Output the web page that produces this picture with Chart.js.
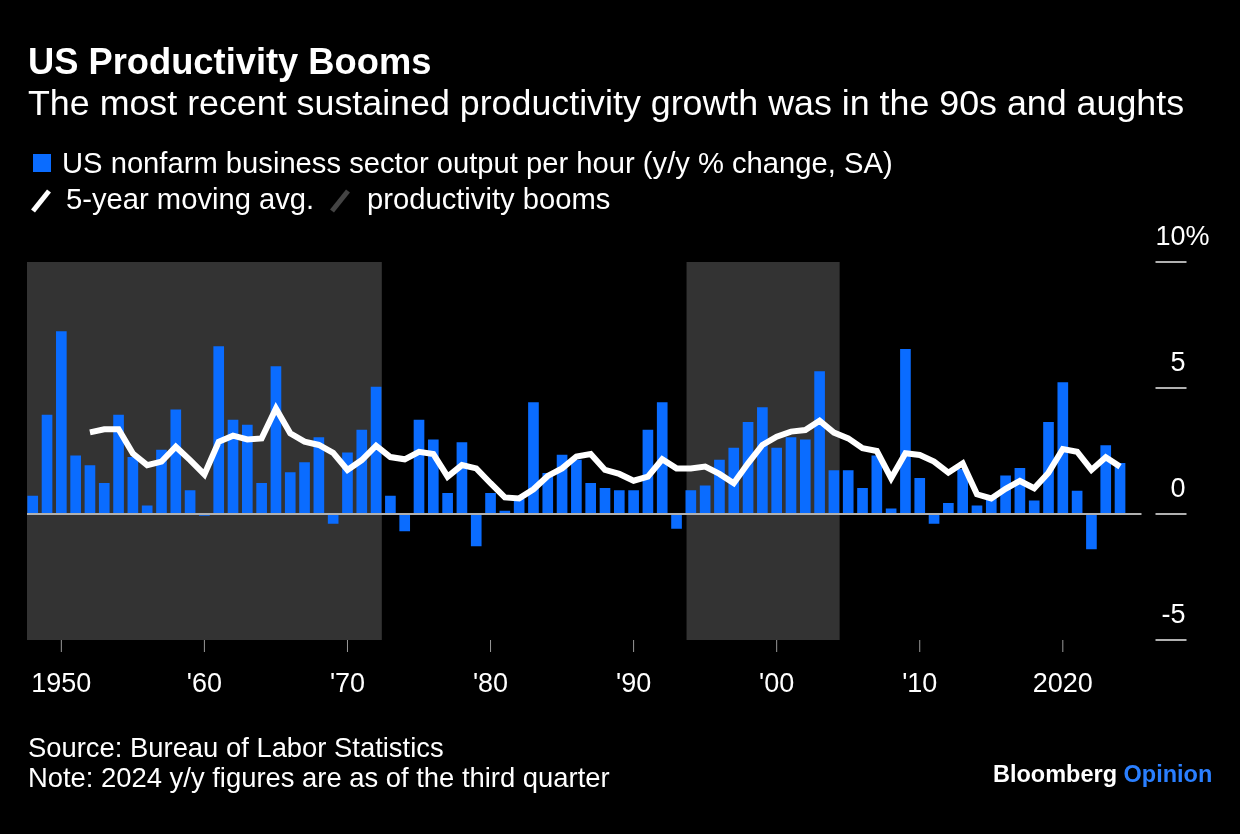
<!DOCTYPE html>
<html>
<head>
<meta charset="utf-8">
<script src="https://cdn.jsdelivr.net/npm/chart.js@4"></script>
<style>
    body {
        margin: 0;
        background: #000;
        width: 1240px;
        height: 834px;
        overflow: hidden;
        font-family: "Liberation Sans", Arial, sans-serif;
        color: #fff;
    }
    .txt {
        position: absolute;
        white-space: nowrap;
        line-height: 1;
    }
    #wrap {
        position: absolute;
        left: 0;
        top: 0;
        width: 1240px;
        height: 834px;
    }
</style>
</head>
<body>
<div id="wrap"><canvas id="chart" width="1240" height="834"></canvas></div>

<div class="txt" style="left:28px;top:44px;font-size:36.3px;font-weight:bold;">US Productivity Booms</div>
<div class="txt" style="left:28px;top:86px;font-size:35.8px;">The most recent sustained productivity growth was in the 90s and aughts</div>

<div style="position:absolute;left:33px;top:154px;width:18px;height:18px;background:#0a6cff;"></div>
<div class="txt" style="left:62px;top:149px;font-size:29.2px;">US nonfarm business sector output per hour (y/y % change, SA)</div>
<svg style="position:absolute;left:28px;top:188px;" width="26" height="26"><line x1="5" y1="23" x2="21" y2="3" stroke="#fff" stroke-width="5"/></svg>
<div class="txt" style="left:66px;top:185px;font-size:29.2px;">5-year moving avg.</div>
<svg style="position:absolute;left:327px;top:188px;" width="26" height="26"><line x1="5" y1="23" x2="21" y2="3" stroke="#444" stroke-width="5"/></svg>
<div class="txt" style="left:367px;top:185px;font-size:29.2px;">productivity booms</div>

<div class="txt" style="left:28px;top:734px;font-size:27.4px;">Source: Bureau of Labor Statistics</div>
<div class="txt" style="left:28px;top:764px;font-size:27.4px;">Note: 2024 y/y figures are as of the third quarter</div>
<div class="txt" style="left:993px;top:763px;font-size:23.5px;font-weight:bold;">Bloomberg <span style="color:#2a7fff;">Opinion</span></div>

<script>
// años 1948-2024
const years = [
    1948, 1949, 1950, 1951, 1952, 1953, 1954, 1955, 1956, 1957,
    1958, 1959, 1960, 1961, 1962, 1963, 1964, 1965, 1966, 1967,
    1968, 1969, 1970, 1971, 1972, 1973, 1974, 1975, 1976, 1977,
    1978, 1979, 1980, 1981, 1982, 1983, 1984, 1985, 1986, 1987,
    1988, 1989, 1990, 1991, 1992, 1993, 1994, 1995, 1996, 1997,
    1998, 1999, 2000, 2001, 2002, 2003, 2004, 2005, 2006, 2007,
    2008, 2009, 2010, 2011, 2012, 2013, 2014, 2015, 2016, 2017,
    2018, 2019, 2020, 2021, 2022, 2023, 2024
];
// y/y % change, output per hour
const growth = [
    0.71, 3.93, 7.24, 2.31, 1.92, 1.22, 3.93, 2.25, 0.32, 2.54,
    4.13, 0.93, -0.06, 6.64, 3.73, 3.53, 1.22, 5.85, 1.64, 2.04,
    3.03, -0.37, 2.43, 3.33, 5.04, 0.71, -0.67, 3.73, 2.94, 0.82,
    2.83, -1.27, 0.82, 0.12, 0.58, 4.42, 1.61, 2.34, 2.14, 1.22,
    1.02, 0.93, 0.93, 3.33, 4.42, -0.57, 0.93, 1.12, 2.14, 2.62,
    3.64, 4.22, 2.62, 3.03, 2.94, 5.65, 1.72, 1.72, 1.02, 2.31,
    0.21, 6.53, 1.42, -0.37, 0.42, 1.77, 0.32, 0.62, 1.51, 1.81,
    0.52, 3.64, 5.22, 0.91, -1.39, 2.72, 2.01
];
// media movil 5 años, desde 1952
const maYears = [
    1952, 1953, 1954, 1955, 1956, 1957, 1958, 1959, 1960, 1961,
    1962, 1963, 1964, 1965, 1966, 1967, 1968, 1969, 1970, 1971,
    1972, 1973, 1974, 1975, 1976, 1977, 1978, 1979, 1980, 1981,
    1982, 1983, 1984, 1985, 1986, 1987, 1988, 1989, 1990, 1991,
    1992, 1993, 1994, 1995, 1996, 1997, 1998, 1999, 2000, 2001,
    2002, 2003, 2004, 2005, 2006, 2007, 2008, 2009, 2010, 2011,
    2012, 2013, 2014, 2015, 2016, 2017, 2018, 2019, 2020, 2021,
    2022, 2023, 2024
];
const movingAvg = [
    3.24, 3.36, 3.36, 2.4, 1.94, 2.08, 2.67, 2.14, 1.57, 2.87,
    3.11, 2.96, 3.0, 4.19, 3.2, 2.87, 2.74, 2.43, 1.75, 2.14,
    2.71, 2.26, 2.17, 2.47, 2.38, 1.48, 1.94, 1.81, 1.22, 0.66,
    0.62, 0.98, 1.51, 1.81, 2.28, 2.38, 1.75, 1.59, 1.32, 1.48,
    2.17, 1.81, 1.81, 1.88, 1.59, 1.22, 2.01, 2.74, 3.07, 3.27,
    3.33, 3.7, 3.23, 3.0, 2.61, 2.5, 1.42, 2.41, 2.34, 2.08,
    1.64, 2.01, 0.78, 0.62, 1.0, 1.31, 1.02, 1.64, 2.58, 2.47,
    1.75, 2.25, 1.88
];
// periodos de auge (sombreado)
const boomStart = [1947.6, 1993.7];
const boomEnd = [1972.4, 2004.4];

const xTicks = [1950, 1960, 1970, 1980, 1990, 2000, 2010, 2020];
const xLabels = ["1950", "'60", "'70", "'80", "'90", "'00", "'10", "2020"];
const yTicks = [-5, 0, 5, 10];
const yLabels = ["-5", "0", "5", "10"];

const FONT = '"Liberation Sans", Arial, sans-serif';

const decor = {
    id: "decor",
    beforeDatasetsDraw(chart) {
        const { ctx, chartArea, scales } = chart;
        ctx.save();
        ctx.fillStyle = "#333333";
        boomStart.forEach((s, i) => {
            const x1 = scales.x.getPixelForValue(s);
            const x2 = scales.x.getPixelForValue(boomEnd[i]);
            ctx.fillRect(x1, chartArea.top, x2 - x1, chartArea.bottom - chartArea.top);
        });
        ctx.restore();
    },
    afterDatasetsDraw(chart) {
        const { ctx, chartArea, scales } = chart;
        const y0 = scales.y.getPixelForValue(0);
        ctx.save();
        ctx.strokeStyle = "#b0b0b0";
        ctx.lineWidth = 2;
        ctx.beginPath();
        ctx.moveTo(chartArea.left, y0);
        ctx.lineTo(chartArea.right, y0);
        ctx.stroke();
        ctx.restore();
    },
    afterDraw(chart) {
        const { ctx, chartArea, scales } = chart;
        ctx.save();
        // eje y a la derecha
        ctx.font = "27px " + FONT;
        ctx.fillStyle = "#fff";
        ctx.textBaseline = "alphabetic";
        yTicks.forEach((v, i) => {
            const py = scales.y.getPixelForValue(v);
            ctx.strokeStyle = "#b0b0b0";
            ctx.lineWidth = 2;
            ctx.beginPath();
            ctx.moveTo(chartArea.right + 14, py);
            ctx.lineTo(chartArea.right + 45, py);
            ctx.stroke();
            ctx.textAlign = "right";
            ctx.fillText(yLabels[i], chartArea.right + 44, py - 17);
            if (v === 10) {
                ctx.textAlign = "left";
                ctx.fillText("%", chartArea.right + 44, py - 17);
            }
        });
        // eje x
        ctx.textAlign = "center";
        xTicks.forEach((v, i) => {
            const px = scales.x.getPixelForValue(v);
            ctx.strokeStyle = "#999";
            ctx.lineWidth = 1;
            ctx.beginPath();
            ctx.moveTo(px, chartArea.bottom);
            ctx.lineTo(px, chartArea.bottom + 12);
            ctx.stroke();
            ctx.fillText(xLabels[i], px, chartArea.bottom + 52);
        });
        ctx.restore();
    },
};

const ctx = document.getElementById("chart").getContext("2d");

new Chart(ctx, {
    type: "bar",
    data: {
        datasets: [
            {
                type: "line",
                label: "5-year moving avg.",
                data: maYears.map((yr, i) => ({ x: yr, y: movingAvg[i] })),
                borderColor: "#ffffff",
                borderWidth: 6,
                pointRadius: 0,
                tension: 0,
                order: 0,
            },
            {
                type: "bar",
                label: "US nonfarm business sector output per hour",
                data: years.map((yr, i) => ({ x: yr, y: growth[i] })),
                backgroundColor: "#0a6cff",
                borderWidth: 0,
                barThickness: 10,
                order: 1,
            },
        ],
    },
    options: {
        responsive: false,
        animation: false,
        devicePixelRatio: 1,
        layout: {
            padding: { left: 27, right: 98.5, top: 262, bottom: 194 },
        },
        plugins: {
            legend: { display: false },
            tooltip: { enabled: false },
        },
        scales: {
            x: { type: "linear", min: 1947.6, max: 2025.5, offset: false, display: false },
            y: { min: -5, max: 10, display: false },
        },
    },
    plugins: [decor],
});
</script>
</body>
</html>
